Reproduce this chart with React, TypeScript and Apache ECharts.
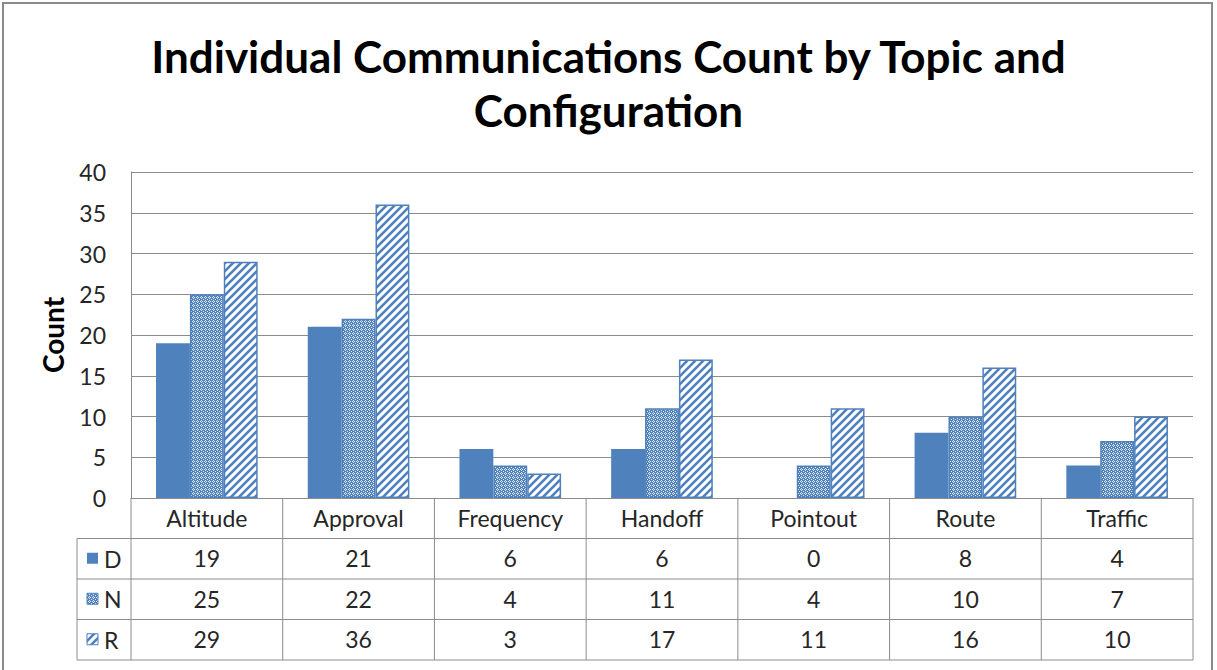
import React, { useEffect, useRef } from "react";
import * as echarts from "echarts";

const categories = ["Altitude", "Approval", "Frequency", "Handoff", "Pointout", "Route", "Traffic"];
const seriesNames = ["D", "N", "R"];
const valuesD = [19, 21, 6, 6, 0, 8, 4];
const valuesN = [25, 22, 4, 11, 4, 10, 7];
const valuesR = [29, 36, 3, 17, 11, 16, 10];
const yMin = 0;
const yMax = 40;
const yInterval = 5;

const BLUE = "#4F81BD";
const GRID = "#8C8C8C";
const FONT = "Lato";
const LABEL_SIZE = 23;

function dotPattern(): HTMLCanvasElement {
  const c = document.createElement("canvas");
  c.width = 4;
  c.height = 4;
  const ctx = c.getContext("2d")!;
  ctx.fillStyle = BLUE;
  ctx.fillRect(0, 0, 4, 4);
  ctx.fillStyle = "#E6EDF7";
  ctx.fillRect(1, 0, 1, 1);
  ctx.fillRect(0, 1, 1, 1);
  ctx.fillRect(2, 1, 1, 1);
  ctx.fillRect(1, 2, 1, 1);
  ctx.fillRect(3, 3, 1, 1);
  return c;
}

function stripePattern(): HTMLCanvasElement {
  const c = document.createElement("canvas");
  c.width = 8;
  c.height = 8;
  const ctx = c.getContext("2d")!;
  ctx.fillStyle = "#FFFFFF";
  ctx.fillRect(0, 0, 8, 8);
  ctx.strokeStyle = BLUE;
  ctx.lineWidth = 2.6;
  ctx.beginPath();
  ctx.moveTo(-2, 10);
  ctx.lineTo(10, -2);
  ctx.moveTo(-2, 2);
  ctx.lineTo(2, -2);
  ctx.moveTo(6, 10);
  ctx.lineTo(10, 6);
  ctx.stroke();
  return c;
}

export default function App() {
  const ref = useRef<HTMLDivElement>(null);

  useEffect(() => {
    document.body.style.margin = "0";
    const chart = echarts.init(ref.current!, undefined, { renderer: "svg" });
    const dots = { image: dotPattern(), repeat: "repeat" };
    const stripes = { image: stripePattern(), repeat: "repeat" };
    const gridLeft = 131;
    const gridRight = 1193;
    const gridTop = 172;
    const gridBottom = 498;
    const rowH = 40.5;

    const valueRows = [valuesD, valuesN, valuesR];
    const tableAxes = valueRows.map((vals, r) => ({
      type: "category",
      data: categories,
      gridIndex: 0,
      position: "bottom",
      offset: rowH * (r + 1),
      axisLine: { show: false },
      axisTick: { show: false },
      splitLine: { show: false },
      axisLabel: {
        interval: 0,
        margin: 8,
        fontFamily: FONT,
        fontSize: LABEL_SIZE,
        color: "#262626",
        formatter: (_v: string, idx: number) => String(vals[idx]),
      },
    }));

    chart.setOption({
      animation: false,
      backgroundColor: "#FFFFFF",
      title: {
        text: "Individual Communications Count by Topic and\nConfiguration",
        left: "center",
        top: 24,
        textStyle: {
          fontFamily: FONT,
          fontWeight: "bold",
          fontSize: 44,
          lineHeight: 54,
          color: "#000000",
        },
      },
      grid: {
        left: gridLeft,
        right: 1217 - gridRight,
        top: gridTop,
        bottom: 670 - gridBottom,
        containLabel: false,
      },
      xAxis: [
        {
          type: "category",
          data: categories,
          axisLine: { show: true, lineStyle: { color: GRID, width: 1 } },
          axisTick: { show: false },
          axisLabel: {
            interval: 0,
            margin: 8,
            fontFamily: FONT,
            fontSize: LABEL_SIZE,
            color: "#262626",
          },
        },
        ...tableAxes,
      ],
      yAxis: {
        type: "value",
        min: yMin,
        max: yMax,
        interval: yInterval,
        name: "Count",
        nameLocation: "middle",
        nameGap: 64,
        nameRotate: 90,
        nameTextStyle: { fontFamily: FONT, fontWeight: "bold", fontSize: 28, color: "#000" },
        axisLine: { show: true, lineStyle: { color: GRID, width: 1 } },
        axisTick: { show: false },
        axisLabel: { margin: 25, fontFamily: FONT, fontSize: LABEL_SIZE, color: "#262626" },
        splitLine: { show: true, lineStyle: { color: GRID, width: 1 } },
      },
      series: [
        {
          name: seriesNames[0],
          type: "bar",
          data: valuesD,
          barGap: "0%",
          barCategoryGap: "33%",
          itemStyle: { color: BLUE },
        },
        {
          name: seriesNames[1],
          type: "bar",
          data: valuesN,
          barGap: "0%",
          barCategoryGap: "33%",
          itemStyle: { color: dots, borderColor: BLUE, borderWidth: 1.5 },
        },
        {
          name: seriesNames[2],
          type: "bar",
          data: valuesR,
          barGap: "0%",
          barCategoryGap: "33%",
          itemStyle: { color: stripes, borderColor: BLUE, borderWidth: 1.5 },
        },
      ],
    });

    const n = categories.length;
    const c0 = chart.convertToPixel({ xAxisIndex: 0 }, categories[0]) as number;
    const c1 = chart.convertToPixel({ xAxisIndex: 0 }, categories[1]) as number;
    const band = c1 - c0;
    const firstEdge = c0 - band / 2;
    const lastEdge = firstEdge + band * n;
    const yZero = chart.convertToPixel({ yAxisIndex: 0 }, 0) as number;
    const keyLeft = 77;
    const lineStyle = { stroke: GRID, lineWidth: 1 };
    const graphics: any[] = [];
    const tableBottom = yZero + rowH * 4;
    graphics.push({ type: "line", shape: { x1: firstEdge, y1: yZero + rowH, x2: lastEdge, y2: yZero + rowH }, style: lineStyle });
    for (let r = 1; r <= 3; r++) {
      const y = yZero + rowH * (r + 1);
      graphics.push({ type: "line", shape: { x1: keyLeft, y1: y, x2: lastEdge, y2: y }, style: lineStyle });
    }
    graphics.push({ type: "line", shape: { x1: keyLeft, y1: yZero + rowH, x2: firstEdge, y2: yZero + rowH }, style: lineStyle });
    for (let i = 0; i <= n; i++) {
      const x = firstEdge + band * i;
      graphics.push({ type: "line", shape: { x1: x, y1: yZero, x2: x, y2: tableBottom }, style: lineStyle });
    }
    graphics.push({ type: "line", shape: { x1: keyLeft, y1: yZero + rowH, x2: keyLeft, y2: tableBottom }, style: lineStyle });
    const fills = [BLUE, dots, stripes];
    seriesNames.forEach((name, r) => {
      const cy = yZero + rowH * (r + 1) + rowH / 2;
      graphics.push({
        type: "rect",
        shape: { x: 87, y: cy - 6, width: 11, height: 11 },
        style: { fill: fills[r], stroke: r === 0 ? null : BLUE, lineWidth: 1 },
      });
      graphics.push({
        type: "text",
        x: 104,
        y: cy,
        style: {
          text: name,
          fontFamily: FONT,
          fontSize: LABEL_SIZE,
          fill: "#262626",
          verticalAlign: "middle",
          align: "left",
        },
      });
    });
    graphics.push({
      type: "rect",
      shape: { x: 3, y: 3, width: 1209, height: 700 },
      style: { fill: null, stroke: "#8A8A8A", lineWidth: 2 },
    });
    chart.setOption({ graphic: graphics });

    return () => chart.dispose();
  }, []);

  return <div ref={ref} style={{ position: "absolute", left: 0, top: 0, width: 1217, height: 670 }} />;
}
